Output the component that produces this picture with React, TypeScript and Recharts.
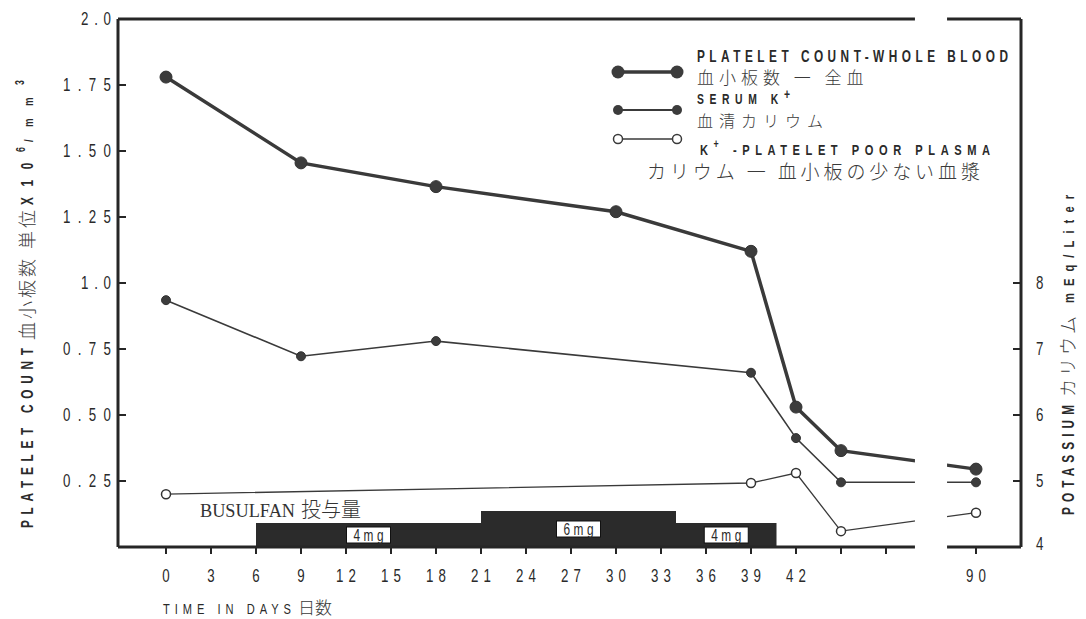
import { LineChart, Line, XAxis, YAxis, ReferenceArea, ReferenceLine } from 'recharts'

// platelet count, whole blood (x10^6/mm3)
const platDays = [0, 9, 18, 30, 39, 42, 45, 90]
const platValues = [1.78, 1.455, 1.365, 1.27, 1.12, 0.53, 0.365, 0.295]

// serum potassium (mEq/L)
const serumDays = [0, 9, 18, 39, 42, 45, 90]
const serumK = [7.74, 6.89, 7.12, 6.64, 5.65, 4.98, 4.98]

// potassium, platelet poor plasma (mEq/L)
const plasmaDays = [0, 39, 42, 45, 90]
const plasmaK = [4.8, 4.97, 5.12, 4.24, 4.52]

// busulfan dosing periods
const doseStart = [6, 21, 34]
const doseEnd = [21, 34, 40.7]
const doseMg = [4, 6, 4]

const xTickDays = [0, 3, 6, 9, 12, 15, 18, 21, 24, 27, 30, 33, 36, 39, 42, 45, 48, 90]
const xTickLabels = ['0', '3', '6', '9', '12', '15', '18', '21', '24', '27', '30', '33', '36', '39', '42', '', '', '90']
const leftTicks = [0.25, 0.5, 0.75, 1.0, 1.25, 1.5, 1.75, 2.0]
const leftTickLabels = ['0.25', '0.50', '0.75', '1.0', '1.25', '1.50', '1.75', '2.0']
const rightTicks = [4, 5, 6, 7, 8]

// axis break: days past 48 are pulled left so that day 90 sits just after the gap
const BREAK_FROM = 49.93
const BREAK_TO = 52.07
const BREAK_SHIFT = 36
const toPos = (d: number) => (d > 48 ? d - BREAK_SHIFT : d)
const X_MIN = -3.2
const X_MAX = 57.0
// dose bars are drawn on the platelet axis: 1 mg = 6px of a 264px/unit axis
const DOSE_UNIT = 6 / 264

const INK = '#262626'
const LINE = '#3a3a3a'
const SANS = "'Liberation Sans', Arial, sans-serif"
const FONT_CJK = "'Noto Sans CJK JP', sans-serif"
const FONT_SERIF = "'Liberation Serif', 'DejaVu Serif', serif"
const NARROW = 0.74

const xTickPos = xTickDays.map(toPos)
const platData = platDays.map((d, i) => ({ pos: toPos(d), v: platValues[i] }))
const serumData = serumDays.map((d, i) => ({ pos: toPos(d), v: serumK[i] }))
const plasmaData = plasmaDays.map((d, i) => ({ pos: toPos(d), v: plasmaK[i] }))

// narrow, widely spaced capitals like the typewritten labels of the original
function Caps({ x, y, w, size = 15, rotate = 0, anchor = 'start', weight = 700, children }: any) {
  const rot = rotate ? ` rotate(${rotate})` : ''
  return (
    <text
      transform={`translate(${x},${y})${rot} scale(${NARROW},1)`}
      fontFamily={SANS}
      fontWeight={weight}
      fontSize={size}
      textAnchor={anchor}
      textLength={w / NARROW}
      lengthAdjust="spacing"
      fill="#2a2a2a"
    >
      {children}
    </text>
  )
}

function XTick(props: any) {
  const { x, y, payload } = props
  const label = xTickLabels[xTickPos.indexOf(payload.value)]
  return (
    <g>
      <line x1={x} x2={x} y1={y} y2={y + 7} stroke={INK} strokeWidth={2} />
      {label && (
        <Caps x={x} y={y + 35} w={label.length === 1 ? 9 : 20} size={18} anchor="middle" weight={400}>
          {label}
        </Caps>
      )}
    </g>
  )
}

function LeftTick(props: any) {
  const { x, y, payload } = props
  const label = leftTickLabels[leftTicks.indexOf(payload.value)]
  return (
    <g>
      <line x1={x} x2={x + 8} y1={y} y2={y} stroke={INK} strokeWidth={2} />
      <Caps x={x - 7} y={y + 6} w={label.length === 4 ? 48 : 30} size={18} anchor="end" weight={400}>
        {label}
      </Caps>
    </g>
  )
}

function RightTick(props: any) {
  const { x, y, payload } = props
  const inner = payload.value > 4
  return (
    <g>
      {inner && <line x1={x - 8} x2={x} y1={y} y2={y} stroke={INK} strokeWidth={2} />}
      <Caps x={x + 15} y={inner ? y + 6 : y + 3} w={9} size={18} weight={400}>
        {payload.value}
      </Caps>
    </g>
  )
}

function DoseLabel(props: any) {
  const { viewBox, value } = props
  const cx = viewBox.x + viewBox.width / 2
  const cy = viewBox.y + viewBox.height / 2
  return (
    <g>
      <rect x={cx - 22} y={cy - 8} width={44} height={16} fill="#fff" stroke="#111" strokeWidth={1} />
      <Caps x={cx} y={cy + 5.5} w={30} size={16} anchor="middle" weight={400}>
        {value}
      </Caps>
    </g>
  )
}

function Overlay() {
  const jp = { fontFamily: FONT_CJK, fontWeight: 300, fill: '#3a3a3a' }
  return (
    <svg width={1086} height={619} style={{ position: 'absolute', left: 0, top: 0, pointerEvents: 'none' }}>
      {/* legend */}
      <line x1={618} x2={677} y1={72} y2={72} stroke={LINE} strokeWidth={3.5} />
      <circle cx={618} cy={72} r={6.5} fill="#3c3c3c" />
      <circle cx={677} cy={72} r={6.5} fill="#3c3c3c" />
      <line x1={618} x2={677} y1={110} y2={110} stroke={LINE} strokeWidth={1.8} />
      <circle cx={618} cy={110} r={5} fill="#3c3c3c" />
      <circle cx={677} cy={110} r={5} fill="#3c3c3c" />
      <line x1={618} x2={677} y1={139} y2={139} stroke={LINE} strokeWidth={1.3} />
      <circle cx={618} cy={139} r={4.5} fill="#fff" stroke={LINE} strokeWidth={1.5} />
      <circle cx={677} cy={139} r={4.5} fill="#fff" stroke={LINE} strokeWidth={1.5} />

      <Caps x={697} y={62} w={311} size={16}>PLATELET COUNT-WHOLE BLOOD</Caps>
      <text x={697} y={84} fontSize={17} letterSpacing={5} {...jp}>血小板数 一 全血</text>
      <Caps x={697} y={104} w={93} size={14}>
        SERUM K<tspan dy={-5}>+</tspan>
      </Caps>
      <text x={697} y={127} fontSize={16} letterSpacing={6} {...jp}>血清カリウム</text>
      <Caps x={700} y={155} w={290} size={15}>
        K<tspan fontSize={12} dy={-7}>+</tspan><tspan dy={7}>  -PLATELET POOR PLASMA</tspan>
      </Caps>
      <text x={647} y={179} fontSize={19} letterSpacing={3.9} {...jp}>カリウム 一 血小板の少ない血漿</text>

      {/* busulfan caption */}
      <text x={200} y={517} fill="#333">
        <tspan fontFamily={FONT_SERIF} fontSize={19} textLength={95} lengthAdjust="spacingAndGlyphs">BUSULFAN</tspan>
        <tspan fontFamily={FONT_CJK} fontWeight={300} fontSize={20} dx={6}>投与量</tspan>
      </text>

      {/* left axis title, written bottom to top */}
      <Caps x={33} y={528} w={180} size={16} rotate={-90}>PLATELET COUNT</Caps>
      <text transform="translate(34,340) rotate(-90)" fontSize={18} letterSpacing={3} {...jp}>血小板数 単位</text>
      <Caps x={33} y={205} w={58} size={16} rotate={-90}>
        X10<tspan fontSize={12} dy={-8}>6</tspan>
      </Caps>
      <Caps x={33} y={142} w={62} size={13} rotate={-90}>
        /mm<tspan fontSize={12} dy={-9}>3</tspan>
      </Caps>

      {/* right axis title */}
      <Caps x={1074} y={515} w={110} size={16} rotate={-90}>POTASSIUM</Caps>
      <text transform="translate(1075,397) rotate(-90)" fontSize={18} letterSpacing={3} {...jp}>カリウム</text>
      <Caps x={1074} y={303} w={108} size={15} rotate={-90}>mEq/Liter</Caps>

      {/* x axis title */}
      <Caps x={163} y={614} w={128} size={15} weight={400}>TIME IN DAYS</Caps>
      <text x={298} y={614} fontSize={17} {...jp}>日数</text>
    </svg>
  )
}

export default function App() {
  return (
    <div style={{ position: 'absolute', left: 0, top: 0, width: 1086, height: 619, background: '#fff' }}>
      <LineChart width={1086} height={619} margin={{ top: 19, right: 0, bottom: 0, left: 0 }}>
        <XAxis
          type="number"
          dataKey="pos"
          domain={[X_MIN, X_MAX]}
          ticks={xTickPos}
          allowDataOverflow
          axisLine={false}
          tickLine={false}
          tickSize={0}
          tickMargin={0}
          height={72}
          tick={<XTick />}
          interval={0}
        />
        <YAxis
          yAxisId="left"
          domain={[0, 2]}
          ticks={leftTicks}
          width={118}
          axisLine={{ stroke: INK, strokeWidth: 3 }}
          tickLine={false}
          tickSize={0}
          tickMargin={0}
          tick={<LeftTick />}
          interval={0}
        />
        <YAxis
          yAxisId="right"
          orientation="right"
          domain={[4, 12]}
          ticks={rightTicks}
          width={65}
          axisLine={{ stroke: INK, strokeWidth: 3 }}
          tickLine={false}
          tickSize={0}
          tickMargin={0}
          tick={<RightTick />}
          interval={0}
        />

        {/* frame top and bottom, split at the axis break */}
        <ReferenceLine yAxisId="left" ifOverflow="visible" segment={[{ x: X_MIN, y: 2 }, { x: BREAK_FROM, y: 2 }]} stroke={INK} strokeWidth={3} />
        <ReferenceLine yAxisId="left" ifOverflow="visible" segment={[{ x: BREAK_TO, y: 2 }, { x: X_MAX, y: 2 }]} stroke={INK} strokeWidth={3} />
        <ReferenceLine yAxisId="left" ifOverflow="visible" segment={[{ x: X_MIN, y: 0 }, { x: BREAK_FROM, y: 0 }]} stroke={INK} strokeWidth={3} />
        <ReferenceLine yAxisId="left" ifOverflow="visible" segment={[{ x: BREAK_TO, y: 0 }, { x: X_MAX, y: 0 }]} stroke={INK} strokeWidth={3} />

        {doseMg.map((mg, i) => (
          <ReferenceArea
            key={i}
            yAxisId="left"
            x1={doseStart[i]}
            x2={doseEnd[i]}
            y1={0}
            y2={mg * DOSE_UNIT}
            fill="#2b2b2b"
            fillOpacity={1}
            stroke="none"
            ifOverflow="visible"
            label={{ value: `${mg}mg`, content: DoseLabel }}
          />
        ))}

        <Line
          yAxisId="left"
          data={platData}
          dataKey="v"
          type="linear"
          stroke={LINE}
          strokeWidth={3.5}
          dot={{ r: 6, fill: '#3c3c3c', stroke: '#333', strokeWidth: 1 }}
          isAnimationActive={false}
        />
        <Line
          yAxisId="right"
          data={serumData}
          dataKey="v"
          type="linear"
          stroke={LINE}
          strokeWidth={1.6}
          dot={{ r: 4.5, fill: '#3c3c3c', stroke: '#333', strokeWidth: 1 }}
          isAnimationActive={false}
        />
        <Line
          yAxisId="right"
          data={plasmaData}
          dataKey="v"
          type="linear"
          stroke={LINE}
          strokeWidth={1.3}
          dot={{ r: 4.5, fill: '#fff', stroke: '#333', strokeWidth: 1.5 }}
          isAnimationActive={false}
        />

        {/* blank out the lines across the axis break */}
        <ReferenceArea
          yAxisId="left"
          x1={BREAK_FROM}
          x2={BREAK_TO}
          y1={0.02}
          y2={1.98}
          fill="#fff"
          fillOpacity={1}
          stroke="none"
          ifOverflow="visible"
          {...({ zIndex: 1000 } as any)}
        />
      </LineChart>
      <Overlay />
    </div>
  )
}
